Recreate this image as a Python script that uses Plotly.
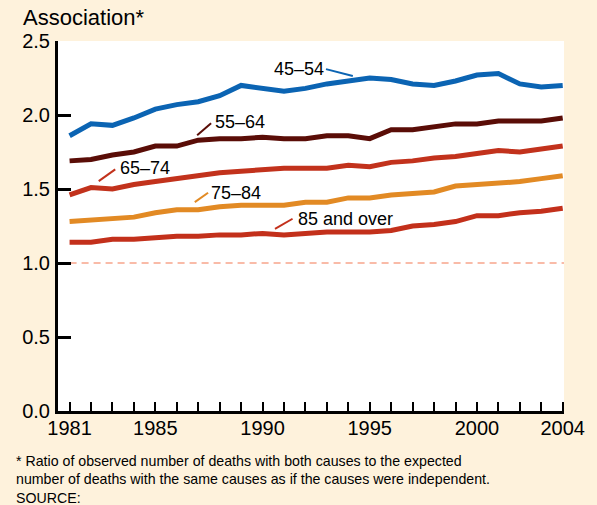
import plotly.graph_objects as go

years = list(range(1981, 2005))
age_45_54 = [1.86, 1.94, 1.93, 1.98, 2.04, 2.07, 2.09, 2.13, 2.20, 2.18, 2.16, 2.18, 2.21, 2.23, 2.25, 2.24, 2.21, 2.20, 2.23, 2.27, 2.28, 2.21, 2.19, 2.20]
age_55_64 = [1.69, 1.70, 1.73, 1.75, 1.79, 1.79, 1.83, 1.84, 1.84, 1.85, 1.84, 1.84, 1.86, 1.86, 1.84, 1.90, 1.90, 1.92, 1.94, 1.94, 1.96, 1.96, 1.96, 1.98]
age_65_74 = [1.46, 1.51, 1.50, 1.53, 1.55, 1.57, 1.59, 1.61, 1.62, 1.63, 1.64, 1.64, 1.64, 1.66, 1.65, 1.68, 1.69, 1.71, 1.72, 1.74, 1.76, 1.75, 1.77, 1.79]
age_75_84 = [1.28, 1.29, 1.30, 1.31, 1.34, 1.36, 1.36, 1.38, 1.39, 1.39, 1.39, 1.41, 1.41, 1.44, 1.44, 1.46, 1.47, 1.48, 1.52, 1.53, 1.54, 1.55, 1.57, 1.59]
age_85_over = [1.14, 1.14, 1.16, 1.16, 1.17, 1.18, 1.18, 1.19, 1.19, 1.20, 1.19, 1.20, 1.21, 1.21, 1.21, 1.22, 1.25, 1.26, 1.28, 1.32, 1.32, 1.34, 1.35, 1.37]
reference_value = 1.0

series_names = ["45–54", "55–64", "65–74", "75–84", "85 and over"]
series_values = [age_45_54, age_55_64, age_65_74, age_75_84, age_85_over]
colors = ["#0B64B3", "#5A0D07", "#C2321C", "#E28A24", "#C3301B"]

label_years = [1981, 1985, 1990, 1995, 2000, 2004]
y_ticks = [0.0, 0.5, 1.0, 1.5, 2.0, 2.5]

# label positions (data coords) and leader lines
label_pos = [(1990.50, 2.310), (1987.72, 1.951), (1983.32, 1.640), (1987.57, 1.470), (1991.62, 1.299)]
leaders = [((1992.96, 2.310), (1994.21, 2.263)),
           ((1986.95, 1.863), (1987.60, 1.945)),
           ((1982.36, 1.553), (1983.13, 1.633)),
           ((1986.84, 1.411), (1987.46, 1.475)),
           ((1990.58, 1.231), (1991.40, 1.299))]

FONT = "Liberation Sans, Arial, Helvetica, sans-serif"
BG = "#FEF2DC"

W, H = 597, 505
ML, MR, MT, MB = 58, 30, 41, 94
PW, PH = W - ML - MR, H - MT - MB

fig = go.Figure()

fig.add_trace(go.Scatter(x=[years[0], years[-1] + 0.06], y=[reference_value, reference_value],
                         mode="lines", line=dict(color="#F9BBA8", width=2, dash="7px,5px"),
                         hoverinfo="skip", showlegend=False))

for name, vals, col in zip(series_names, series_values, colors):
    fig.add_trace(go.Scatter(x=years, y=vals, mode="lines", name=name,
                             line=dict(color=col, width=5), showlegend=False))

annotations = []
shapes = []
for name, (lx, ly), ((x0, y0), (x1, y1)), col in zip(series_names, label_pos, leaders, colors):
    annotations.append(dict(x=lx, y=ly, xref="x", yref="y", text=name, showarrow=False,
                            xanchor="left", yanchor="middle", borderpad=0,
                            font=dict(family=FONT, size=18, color="black")))
    shapes.append(dict(type="line", xref="x", yref="y", x0=x0, y0=y0, x1=x1, y1=y1,
                       line=dict(color=col, width=2)))

annotations.append(dict(x=(21 - ML) / PW, y=1 + (MT - 17) / PH, xref="paper", yref="paper",
                        text="Association*", showarrow=False, xanchor="left", yanchor="middle",
                        font=dict(family=FONT, size=22, color="black")))

footnote = ("* Ratio of observed number of deaths with both causes to the expected<br>"
            "number of deaths with the same causes as if the causes were independent.<br>"
            "SOURCE:")
annotations.append(dict(x=(14 - ML) / PW, y=-(451 - (H - MB)) / PH, xref="paper", yref="paper",
                        text=footnote, showarrow=False, xanchor="left", yanchor="top", align="left",
                        font=dict(family=FONT, size=14.2, color="black")))

fig.update_layout(
    width=W, height=H,
    margin=dict(l=ML, r=MR, t=MT, b=MB),
    paper_bgcolor=BG, plot_bgcolor="white",
    font=dict(family=FONT, size=20, color="black"),
    shapes=shapes,
    annotations=annotations,
    xaxis=dict(range=[1980.46, 2004.06], tickvals=years,
               ticktext=[str(y) if y in label_years else "" for y in years],
               ticks="inside", ticklen=9, tickwidth=2, tickcolor="black",
               showline=True, linecolor="black", linewidth=3,
               showgrid=False, zeroline=False, tickfont=dict(size=20), ticklabelstandoff=-3),
    yaxis=dict(range=[0, 2.5], tickvals=y_ticks, ticktext=[f"{v:.1f}" for v in y_ticks],
               ticks="inside", ticklen=13, tickwidth=2.5, tickcolor="black",
               showline=True, linecolor="black", linewidth=3,
               showgrid=False, zeroline=False, tickfont=dict(size=20), ticklabelstandoff=1),
)

fig.write_html("out.html", config={"displayModeBar": False},
               post_script="document.body.style.margin='0';document.body.style.background='%s';" % BG)
